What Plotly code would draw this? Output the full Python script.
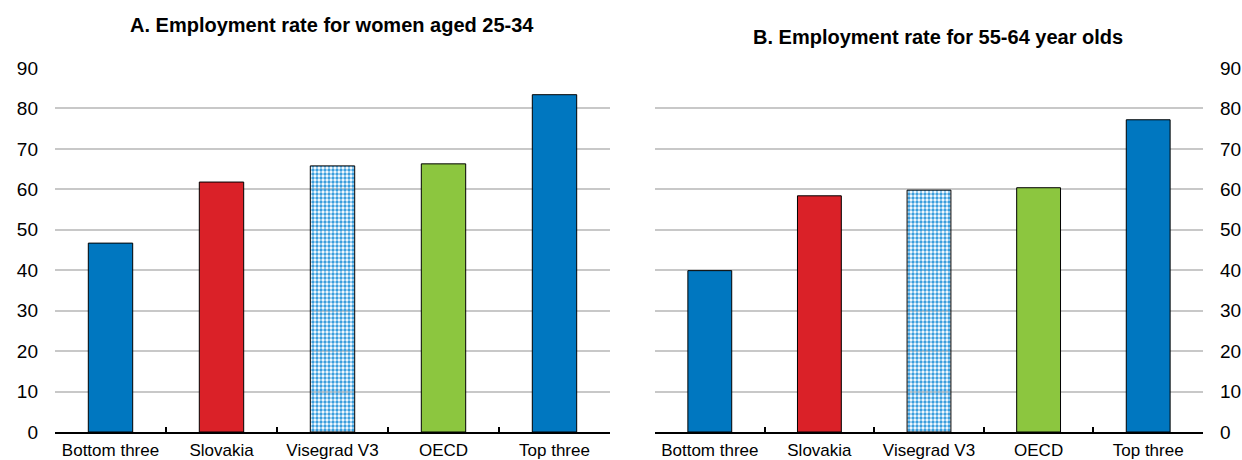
import plotly.graph_objects as go

categories = ["Bottom three", "Slovakia", "Visegrad V3", "OECD", "Top three"]
women_25_34 = [46.7, 61.8, 65.8, 66.3, 83.4]
older_55_64 = [39.9, 58.4, 59.8, 60.4, 77.2]
bar_colors = ["#0077C0", "#DA2128", "#3A9EDD", "#8CC63F", "#0077C0"]
y_ticks = [0, 10, 20, 30, 40, 50, 60, 70, 80, 90]
titles = ["A. Employment rate for women aged 25-34", "B. Employment rate for 55-64 year olds"]

FONT = "Liberation Sans Narrow, Arial Narrow, Liberation Sans, Arial, sans-serif"

shapes = ["", "", ".", "", ""]

fig = go.Figure()
for i, (vals, xa, ya) in enumerate([(women_25_34, "x", "y"), (older_55_64, "x2", "y2")]):
    fig.add_trace(go.Bar(
        x=categories, y=vals, xaxis=xa, yaxis=ya, width=0.4,
        marker=dict(color=bar_colors, line=dict(color="#000000", width=1),
                    pattern=dict(shape=shapes, fgcolor="#FFFFFF", bgcolor="#3A9EDD", fgopacity=1,
                                 size=4, solidity=0.55, fillmode="replace")),
        showlegend=False, hoverinfo="x+y"))

yax = dict(range=[0, 90], tickvals=y_ticks, showgrid=True, gridcolor="#C8C8C8", gridwidth=1.5,
           zeroline=False, showline=False, ticks="", tickfont=dict(family=FONT, size=19, color="#000"),
           domain=[1 - 432 / 460, 1 - 68 / 460], ticklabelstandoff=16, automargin=False)
xax = dict(showline=True, linecolor="#000", linewidth=1.5, ticks="inside", tickson="boundaries",
           ticklen=5, tickcolor="#000", tickwidth=1.5, showgrid=False, tickangle=0, automargin=False,
           tickfont=dict(family=FONT, size=17, color="#000"), ticklabelstandoff=2)

fig.update_layout(
    width=1242, height=460, margin=dict(l=0, r=0, t=0, b=0),
    plot_bgcolor="white", paper_bgcolor="white", bargap=0.6,
    xaxis=dict(xax, domain=[55 / 1242, 610 / 1242], anchor="y"),
    yaxis=dict(yax, anchor="x", side="left"),
    xaxis2=dict(xax, domain=[655 / 1242, 1203 / 1242], anchor="y2"),
    yaxis2=dict(yax, anchor="x2", side="right"),
    annotations=[
        dict(text="<b>" + titles[0] + "</b>", x=332 / 1242, y=1 - 25 / 460, xref="paper", yref="paper",
             showarrow=False, xanchor="center", yanchor="middle", font=dict(family=FONT, size=20, color="#000")),
        dict(text="<b>" + titles[1] + "</b>", x=938 / 1242, y=1 - 37 / 460, xref="paper", yref="paper",
             showarrow=False, xanchor="center", yanchor="middle", font=dict(family=FONT, size=20, color="#000")),
    ],
)

fig.write_html("out.html", config={"displayModeBar": False},
               post_script="document.body.style.margin='0';document.body.style.overflow='hidden';")
